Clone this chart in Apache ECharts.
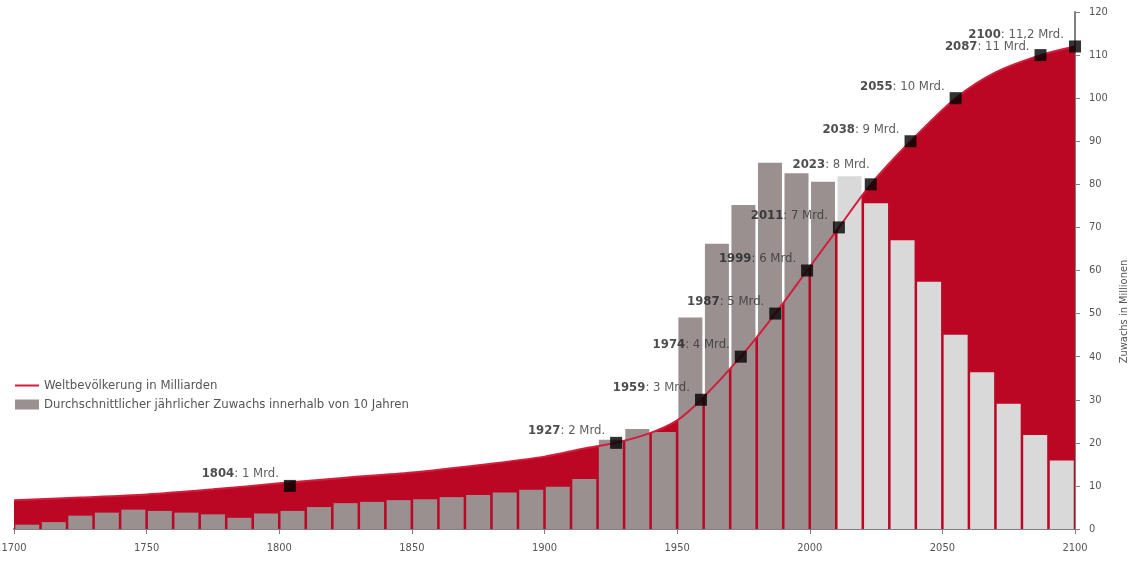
<!DOCTYPE html>
<html>
<head>
<meta charset="utf-8">
<script src="https://cdn.jsdelivr.net/npm/echarts@6/dist/echarts.min.js"></script>
<style>
  html, body { margin: 0; padding: 0; background: #fff; }
  #chart { width: 1131px; height: 561px; }
</style>
</head>
<body>
<div id="chart"></div>
<script>
// Dekaden und durchschnittlicher jaehrlicher Zuwachs (Mio.)
var decades = [1700, 1710, 1720, 1730, 1740, 1750, 1760, 1770, 1780, 1790,
  1800, 1810, 1820, 1830, 1840, 1850, 1860, 1870, 1880, 1890,
  1900, 1910, 1920, 1930, 1940, 1950, 1960, 1970, 1980, 1990,
  2000, 2010, 2020, 2030, 2040, 2050, 2060, 2070, 2080, 2090]
var growth = [1.0, 1.6, 3.1, 3.8, 4.5, 4.2, 3.8, 3.4, 2.6, 3.6,
  4.2, 5.1, 6.0, 6.3, 6.7, 6.9, 7.4, 7.9, 8.5, 9.1,
  9.8, 11.6, 20.7, 23.2, 22.5, 49.1, 66.2, 75.2, 85.0, 82.6,
  80.6, 81.9, 75.6, 67.0, 57.4, 45.1, 36.4, 29.1, 21.8, 15.9]
var forecastFrom = 2010 // ab hier Prognose (helle Balken)

// Weltbevoelkerung (Mrd. x 10, auf der Zuwachs-Skala)
var popYears = [1700, 1725, 1750, 1775, 1800, 1825, 1850, 1875, 1900, 1915, 1927, 1940,
  1950, 1959, 1974, 1987, 1999, 2011, 2023, 2038, 2055, 2070, 2087, 2100]
var popValues = [6.7, 7.3, 8.0, 9.2, 10.6, 11.9, 13.1, 14.8, 16.8, 18.7, 20.0, 22.3,
  25.2, 30, 40, 50, 60, 70, 80, 90, 100, 106, 110, 112]

// Meilensteine
var mileYears = [1804, 1927, 1959, 1974, 1987, 1999, 2011, 2023, 2038, 2055, 2087, 2100]
var mileValues = [10, 20, 30, 40, 50, 60, 70, 80, 90, 100, 110, 112]
var mileTexts = ['1 Mrd.', '2 Mrd.', '3 Mrd.', '4 Mrd.', '5 Mrd.', '6 Mrd.', '7 Mrd.',
  '8 Mrd.', '9 Mrd.', '10 Mrd.', '11 Mrd.', '11,2 Mrd.']

var xTicks = [1700, 1750, 1800, 1850, 1900, 1950, 2000, 2050, 2100]
var yTicks = [0, 10, 20, 30, 40, 50, 60, 70, 80, 90, 100, 110, 120]

var FONT = "'Liberation Sans Narrow', 'DejaVu Sans Condensed', sans-serif"
var RED = '#bb0624'
var LINE_RED = '#d01f3c'
var GRAY = '#9a9090'
var LIGHT = '#d9d9d9'

var popData = popYears.map(function(y, i) { return [y, popValues[i]] })

var barData = decades.map(function(d, i) {
  return {
    value: [d + 5, growth[i]],
    itemStyle: { color: d >= forecastFrom ? LIGHT : GRAY }
  }
})

var mileData = mileYears.map(function(y, i) {
  var item = { value: [y, mileValues[i]], text: mileTexts[i] }
  if (y === 2023) {
    item.label = { offset: [10, -20] }
  } else if (y === 2087) {
    item.label = { offset: [0, -8] }
  }
  return item
})

var chart = echarts.init(document.getElementById('chart'))
chart.setOption({
  animation: false,
  textStyle: { fontFamily: FONT },
  grid: { left: 14, right: 56, top: 12, bottom: 32, outerBoundsMode: 'none' },
  legend: {
    left: 9,
    top: 374,
    orient: 'vertical',
    itemGap: 6,
    itemWidth: 24,
    itemHeight: 10,
    textStyle: { fontFamily: FONT, fontSize: 13, color: '#555' },
    data: [
      { name: 'Weltbevölkerung in Milliarden', itemStyle: { opacity: 0 } },
      { name: 'Durchschnittlicher jährlicher Zuwachs innerhalb von 10 Jahren', icon: 'rect' }
    ]
  },
  xAxis: {
    type: 'value',
    min: 1700,
    max: 2100,
    interval: 50,
    splitLine: { show: false },
    axisLine: { show: true, lineStyle: { color: '#808080', width: 2 } },
    axisTick: { show: true, length: 5, lineStyle: { color: '#808080' } },
    axisLabel: {
      margin: 14,
      fontSize: 11,
      color: '#555',
      fontFamily: FONT,
      formatter: function(v) { return xTicks.indexOf(v) >= 0 ? String(v) : '' }
    }
  },
  yAxis: {
    type: 'value',
    position: 'right',
    min: 0,
    max: 120,
    interval: 10,
    name: 'Zuwachs in Millionen',
    nameLocation: 'middle',
    nameGap: 37,
    nameTextStyle: { fontFamily: FONT, fontSize: 11, color: '#555', padding: [0, 82, 0, 0] },
    splitLine: { show: false },
    axisLine: { show: true, lineStyle: { color: '#808080', width: 2 } },
    axisTick: { show: true, length: 5, lineStyle: { color: '#808080' } },
    axisLabel: {
      margin: 14,
      fontSize: 11,
      color: '#555',
      fontFamily: FONT,
      formatter: function(v) { return yTicks.indexOf(v) >= 0 ? String(v) : '' }
    }
  },
  series: [
    {
      name: 'Fläche',
      type: 'line',
      data: popData,
      smooth: 0.3,
      symbol: 'none',
      lineStyle: { width: 0 },
      areaStyle: { color: RED, opacity: 1 },
      silent: true,
      z: 1
    },
    {
      name: 'Durchschnittlicher jährlicher Zuwachs innerhalb von 10 Jahren',
      type: 'bar',
      data: barData,
      barWidth: 24,
      itemStyle: { color: GRAY },
      z: 2
    },
    {
      name: 'Weltbevölkerung in Milliarden',
      type: 'line',
      data: popData,
      smooth: 0.3,
      symbol: 'none',
      itemStyle: { color: LINE_RED },
      lineStyle: { color: LINE_RED, width: 2 },
      z: 3
    },
    {
      name: 'Meilensteine',
      type: 'scatter',
      data: mileData,
      symbol: 'rect',
      symbolSize: 12,
      itemStyle: { color: '#000' },
      z: 4,
      label: {
        show: true,
        position: 'left',
        distance: 5,
        offset: [0, -12],
        fontFamily: FONT,
        fontSize: 13,
        color: '#333',
        formatter: function(p) {
          return '{y|' + p.value[0] + '}: ' + p.data.text
        },
        rich: {
          y: { fontFamily: FONT, fontSize: 13, fontWeight: 'bold', color: '#222' }
        }
      }
    }
  ]
})
</script>
</body>
</html>
